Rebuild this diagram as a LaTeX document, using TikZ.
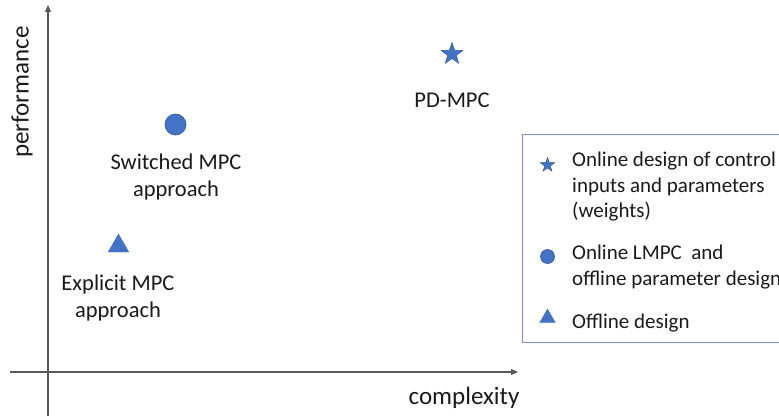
\documentclass[tikz,border=0pt]{standalone}
\usepackage{fontspec}
\setmainfont{Carlito}
\usetikzlibrary{shapes.geometric,arrows.meta}
\definecolor{axisgray}{HTML}{595959}
\definecolor{markblue}{HTML}{4472C4}
\definecolor{markedge}{HTML}{2F528F}
\definecolor{framecol}{HTML}{7F8FC4}
\definecolor{txt}{HTML}{1A1A1A}
\tikzset{
  axis/.style={draw=axisgray, line width=1.2pt, -{Triangle[length=7pt,width=6pt]}},
  mark star/.style={star, star points=5, star point ratio=2.5, fill=markblue, draw=markedge, line width=0.4pt, inner sep=0pt},
  mark dot/.style={circle, fill=markblue, draw=markedge, line width=0.6pt, inner sep=0pt},
  mark tri/.style={regular polygon, regular polygon sides=3, fill=markblue, draw=markblue, line width=0.3pt, inner sep=0pt},
  axlab/.style={text=txt, font=\fontsize{25}{30}\selectfont, inner sep=0pt},
  lab/.style={text=txt, font=\fontsize{22.5}{27}\selectfont, align=center, inner sep=0pt},
  legtext/.style={text=txt, font=\fontsize{21}{25.5}\selectfont, align=left, inner sep=0pt, anchor=north west},
}
\begin{document}
\begin{tikzpicture}[x=1pt,y=-1pt]
\useasboundingbox (0,0) rectangle (779,416);
\clip (0,0) rectangle (779,416);
% axes
\coordinate (ybot) at (48,416);
\coordinate (ytop) at (48,5);
\coordinate (xleft) at (10,372);
\coordinate (xright) at (518,372);
\draw[axis] (ybot) -- (ytop);
\draw[axis] (xleft) -- (xright);
\node[axlab, rotate=90] (perf) at (22,92) {performance};
\node[axlab] (cplx) at (464,398) {complexity};
% data points
\node[mark star, minimum size=23pt] (pd) at (452,54) {};
\node[lab] (pdlab) at (452,100) {PD-MPC};
\node[mark dot, minimum size=21pt] (sw) at (175.5,124.5) {};
\node[lab] (swlab) at (176,177) {Switched MPC\\approach};
\node[mark tri, minimum size=24pt] (ex) at (118.5,246) {};
\node[lab] (exlab) at (118,298) {Explicit MPC\\approach};
% legend
\node[draw=framecol, line width=0.9pt, minimum width=330pt, minimum height=208pt, anchor=north west, inner sep=0pt] (legend) at (522,134) {};
\node[mark star, minimum size=15pt] (lstar) at (547.5,165) {};
\node[legtext] (l1) at (572,152) {Online design of control\\inputs and parameters\\(weights)};
\node[mark dot, minimum size=14pt] (ldot) at (547.5,256.5) {};
\node[legtext] (l2) at (572,245) {Online LMPC\ \ and\\offline parameter design};
\node[mark tri, minimum size=18pt] (ltri) at (547.5,318) {};
\node[legtext] (l3) at (572,314) {Offline design};
\end{tikzpicture}
\end{document}
